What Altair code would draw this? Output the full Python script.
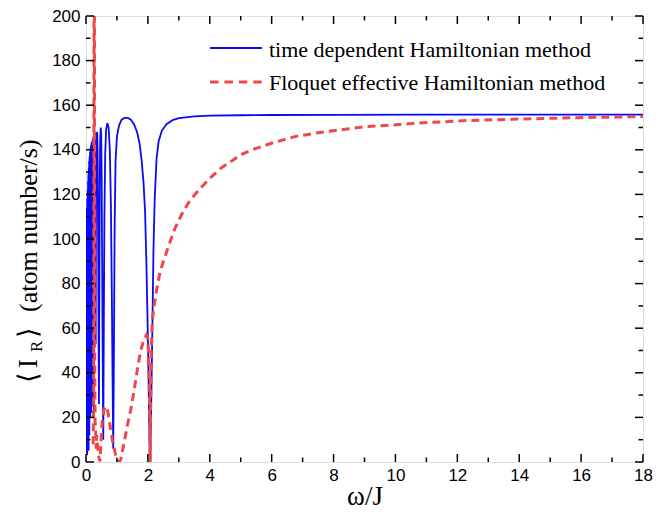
import altair as alt
import pandas as pd

# ---- data ----
omega_td = [
    0.000, 0.006, 0.012, 0.018, 0.024, 0.030, 0.036, 0.042, 0.048, 0.054,
    0.060, 0.066, 0.072, 0.078, 0.084, 0.090, 0.096, 0.102, 0.108, 0.114,
    0.122, 0.130, 0.138, 0.146, 0.154, 0.162, 0.170, 0.178, 0.188, 0.198,
    0.208, 0.218, 0.230, 0.242, 0.254, 0.266, 0.282, 0.296, 0.306, 0.313,
    0.320, 0.330, 0.345, 0.360, 0.375, 0.390, 0.405, 0.418, 0.430, 0.445,
    0.460, 0.475, 0.490, 0.505, 0.520, 0.540, 0.558, 0.575, 0.595, 0.620,
    0.650, 0.690, 0.730, 0.770, 0.805, 0.835, 0.860, 0.880, 0.900, 0.925,
    0.955, 1.000, 1.070, 1.150, 1.250, 1.350, 1.450, 1.550, 1.650, 1.730,
    1.800, 1.860, 1.910, 1.950, 1.980, 2.010, 2.040, 2.060, 2.075, 2.100,
    2.140, 2.180, 2.220, 2.280, 2.350, 2.450, 2.600, 2.800, 3.000, 3.500,
    4.000, 5.000, 6.000, 8.000, 11.00, 14.00, 18.00]
I_td = [
    95, 111, 4, 112, 20, 114, 3, 118, 30, 122,
    8, 126, 45, 129, 5, 132, 25, 135, 12, 137,
    55, 139, 20, 141, 60, 142, 22, 143, 75, 144,
    25, 145, 90, 146, 22, 147, 146, 140, 100, 53,
    100, 138, 147, 148, 140, 105, 60, 26, 75, 125,
    145, 150, 147, 130, 95, 45, 10, 60, 110, 138,
    149, 152, 150, 140, 115, 75, 35, 6, 45, 105,
    135, 146, 151, 153.5, 154.3, 154.3, 153.5, 151.5, 148, 143,
    135, 125, 112, 90, 70, 48, 20, 4, 0, 20,
    55, 95, 118, 136, 144, 148.5, 151.5, 153.3, 154.2, 155.0,
    155.3, 155.5, 155.6, 155.7, 155.8, 155.8, 155.8]

omega_fl = [
    0.230, 0.245, 0.255, 0.262, 0.270, 0.278, 0.285, 0.295, 0.310, 0.330,
    0.345, 0.360, 0.390, 0.420, 0.450, 0.480, 0.530, 0.580, 0.640, 0.700,
    0.760, 0.850, 0.960, 1.020, 1.070, 1.120, 1.230, 1.330, 1.440, 1.530,
    1.610, 1.700, 1.770, 1.870, 1.950, 2.000, 2.030, 2.050, 2.065, 2.075,
    2.090, 2.110, 2.140, 2.200, 2.280, 2.390, 2.500, 2.610, 2.750, 2.880,
    3.090, 3.300, 3.520, 3.780, 4.060, 4.380, 4.710, 5.030, 5.360, 5.790,
    6.050, 6.750, 7.560, 8.370, 9.070, 9.880, 10.63, 11.44, 12.30, 14.03,
    15.86, 18.00]
I_fl = [
    8, 25, 120, 250, 250, 110, 40, 18, 14, 6,
    12, 10, 4, 2, 0.3, 8, 19, 23.5, 25, 23,
    18, 10, 3, 0.8, 0, 1, 8.5, 16, 23, 30,
    37, 45, 50, 55, 57, 55, 45, 28, 8, 0,
    25, 50, 63, 70, 77, 85, 90, 94.5, 100, 105,
    111, 116, 120, 124, 128, 132, 135, 138, 140, 142,
    143.2, 145.9, 147.8, 149.2, 150.4, 151.1, 151.9, 152.5, 153.1, 153.8,
    154.4, 154.9]

x_major = [0, 2, 4, 6, 8, 10, 12, 14, 16, 18]
x_minor = [1, 3, 5, 7, 9, 11, 13, 15, 17]
y_major = [0, 20, 40, 60, 80, 100, 120, 140, 160, 180, 200]
y_minor = [10, 30, 50, 70, 90, 110, 130, 150, 170, 190]

series_names = ["time dependent Hamiltonian method", "Floquet effective Hamiltonian method"]

BLUE = "#0A0AF5"
RED = "#EF4848"

df_td = pd.DataFrame({"omega": omega_td, "I": I_td, "k": list(range(len(omega_td)))})
df_fl = pd.DataFrame({"omega": omega_fl, "I": I_fl, "k": list(range(len(omega_fl)))})

W, H = 557, 446
xs = alt.Scale(domain=[0, 18], nice=False, zero=False)
ys = alt.Scale(domain=[0, 200], nice=False)

LABEL_FONT = "Liberation Sans"
SERIF = "Liberation Serif"

x_axis = alt.Axis(
    orient="bottom", values=x_major, ticks=False, domain=False, grid=False,
    labelFont=LABEL_FONT, labelFontSize=17, labelColor="black", labelPadding=5,
    labelFlush=False,
    title="ω/J", titleFont=SERIF, titleFontSize=27, titleFontWeight="normal",
    titleColor="black", titlePadding=0)
y_axis = alt.Axis(
    orient="left", values=y_major, ticks=False, domain=False, grid=False,
    labelFont=LABEL_FONT, labelFontSize=17, labelColor="black", labelPadding=6,
    labelFlush=False, title=None)

blue = alt.Chart(df_td).mark_line(clip=True, color=BLUE, strokeWidth=1.8).encode(
    x=alt.X("omega:Q", scale=xs, axis=x_axis, title="ω/J"),
    y=alt.Y("I:Q", scale=ys, axis=y_axis),
    order="k:Q",
)

red = alt.Chart(df_fl).mark_line(clip=True, color=RED, strokeWidth=3, strokeDash=[8, 5]).encode(
    x=alt.X("omega:Q", scale=xs, axis=x_axis, title="ω/J"),
    y=alt.Y("I:Q", scale=ys, axis=y_axis),
    order="k:Q",
)


# inward tick marks on all four sides, placed through the scales
def xticks(vals, length):
    d = pd.DataFrame({"omega": vals})
    enc = alt.X("omega:Q", scale=xs, axis=x_axis, title="ω/J")
    bottom = alt.Chart(d).mark_rule(color="black", strokeWidth=1.5).encode(
        x=enc, y=alt.value(H), y2=alt.value(H - length))
    top = alt.Chart(d).mark_rule(color="black", strokeWidth=1.5).encode(
        x=enc, y=alt.value(0), y2=alt.value(length))
    return [bottom, top]


def yticks(vals, length):
    d = pd.DataFrame({"I": vals})
    enc = alt.Y("I:Q", scale=ys, axis=y_axis)
    left = alt.Chart(d).mark_rule(color="black", strokeWidth=1.5).encode(
        y=enc, x=alt.value(0), x2=alt.value(length))
    right = alt.Chart(d).mark_rule(color="black", strokeWidth=1.5).encode(
        y=enc, x=alt.value(W), x2=alt.value(W - length))
    return [left, right]


ticks = xticks(x_major, 8) + xticks(x_minor, 4.5) + yticks(y_major, 8) + yticks(y_minor, 4.5)

# legend (inside the plot)
one = pd.DataFrame({"a": [0]})
leg_blue = alt.Chart(one).mark_rule(color=BLUE, strokeWidth=2).encode(
    x=alt.value(124), x2=alt.value(176), y=alt.value(32))
leg_red = alt.Chart(one).mark_rule(color=RED, strokeWidth=3, strokeDash=[8.5, 5.9]).encode(
    x=alt.value(124), x2=alt.value(176), y=alt.value(66))
leg_t1 = alt.Chart(one).mark_text(align="left", baseline="alphabetic", font=SERIF,
                                   fontSize=22, color="black").encode(
    x=alt.value(183), y=alt.value(41), text=alt.value(series_names[0]))
leg_t2 = alt.Chart(one).mark_text(align="left", baseline="alphabetic", font=SERIF,
                                   fontSize=22, color="black").encode(
    x=alt.value(183), y=alt.value(74), text=alt.value(series_names[1]))


# y-axis title with subscript, built from pieces (rotated)
def ytxt(t, y, size, xoff):
    return alt.Chart(one).mark_text(align="left", baseline="alphabetic", angle=270,
                                    font=SERIF, fontSize=size, color="black").encode(
        x=alt.value(-49 + xoff), y=alt.value(y), text=alt.value(t))


y_title = [
    ytxt("⟨", 367, 27, 0),
    ytxt("I", 352, 27, 0),
    ytxt("R", 336, 17, 5),
    ytxt("⟩", 322, 27, 0),
    ytxt("(atom number/s)", 296, 26, 0),
]

chart = alt.layer(
    blue, red, *ticks, leg_blue, leg_red, leg_t1, leg_t2, *y_title
).properties(
    width=W, height=H,
    autosize=alt.AutoSizeParams(type="none"),
    padding={"left": 86, "top": 16, "right": 24, "bottom": 50},
).configure_view(stroke="black", strokeWidth=2).configure(background="white")

chart.save("out.html", embed_options={"renderer": "svg", "actions": False})
